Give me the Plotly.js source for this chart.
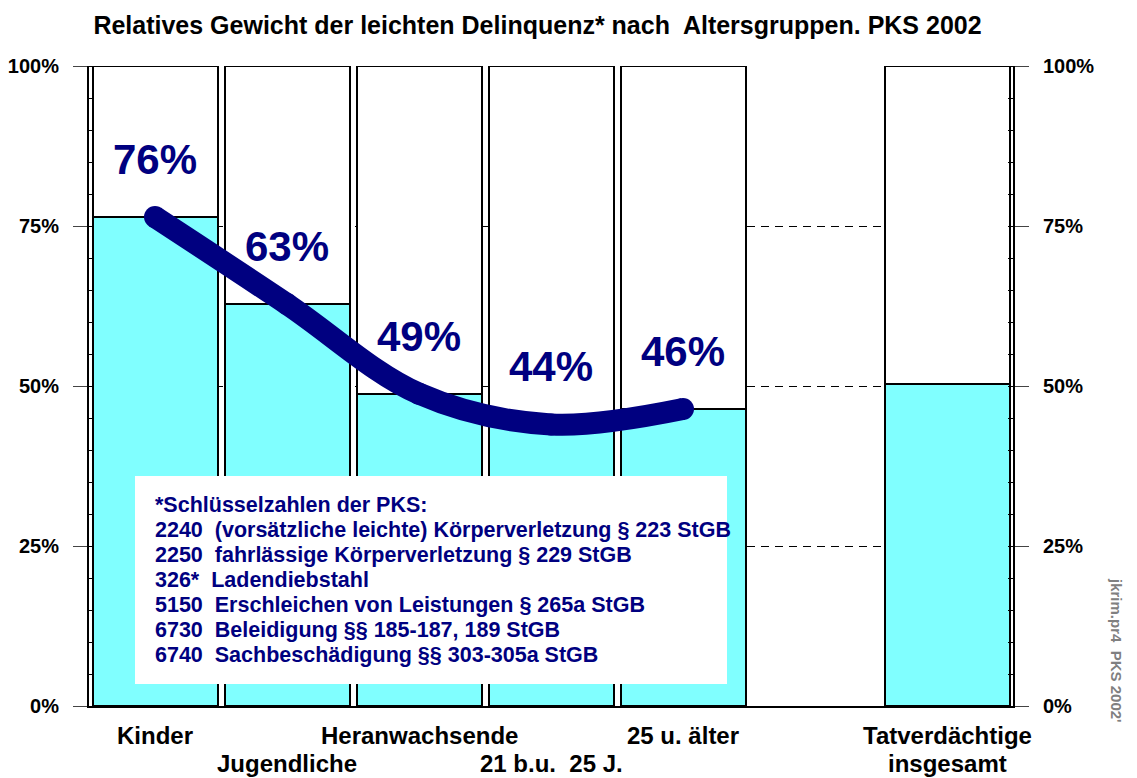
<!DOCTYPE html>
<html>
<head>
<meta charset="utf-8">
<script src="https://cdn.plot.ly/plotly-3.0.1.min.js"></script>
<style>html,body{margin:0;padding:0;background:#fff;}#chart{width:1137px;height:778px;}</style>
</head>
<body>
<div id="chart"></div>
<script>
// ---- data ----
const categoryIndex = [0, 1, 2, 3, 4, 5, 6];
const labelsRow1 = ['Kinder', '', 'Heranwachsende', '', '25 u. älter', '', 'Tatverdächtige'];
const labelsRow2 = ['', 'Jugendliche', '', '21 b.u.  25 J.', '', '', 'insgesamt'];
const lightShare = [76.4, 62.8, 48.8, 44.0, 46.4, null, 50.3];
const percentLabels = ['76%', '63%', '49%', '44%', '46%'];
const curveIndex = [0, 1, 2, 3, 4];
const curveValues = [76.4, 62.8, 48.8, 44.0, 46.4];
const yTicks = [0, 25, 50, 75, 100];
const yTickLabels = ['0%', '25%', '50%', '75%', '100%'];
const footnoteLines = [
  '*Schlüsselzahlen der PKS:',
  '2240  (vorsätzliche leichte) Körperverletzung § 223 StGB',
  '2250  fahrlässige Körperverletzung § 229 StGB',
  '326*  Ladendiebstahl',
  '5150  Erschleichen von Leistungen § 265a StGB',
  '6730  Beleidigung §§ 185-187, 189 StGB',
  '6740  Sachbeschädigung §§ 303-305a StGB'
];
const titleText = 'Relatives Gewicht der leichten Delinquenz* nach  Altersgruppen. PKS 2002';
const sourceText = "jkrim.pr4  PKS 2002'";

// ---- styles ----
const FONT = 'Liberation Sans, Arial, sans-serif';
const NAVY = '#000080';
const CYAN = '#80FFFF';
const restShare = lightShare.map(v => v == null ? null : 100 - v);

const traces = [
  {type: 'bar', x: categoryIndex, y: lightShare, marker: {color: CYAN, line: {color: '#000', width: 2}}, hoverinfo: 'skip'},
  {type: 'bar', x: categoryIndex, y: restShare, marker: {color: '#fff', line: {color: '#000', width: 2}}, hoverinfo: 'skip'},
  {type: 'scatter', mode: 'lines+markers', x: curveIndex, y: curveValues,
   line: {color: NAVY, width: 22, shape: 'spline', smoothing: 1}, marker: {color: NAVY, size: 22}, hoverinfo: 'skip'},
  {type: 'scatter', x: [null], y: [null], yaxis: 'y2', hoverinfo: 'skip', showlegend: false}
];

const tickFont = {family: FONT, size: 20, color: '#000', weight: 700};
const yCommon = {
  range: [0, 100], tickmode: 'array', tickvals: yTicks, ticktext: yTickLabels, ticks: 'outside', ticklen: 14, tickwidth: 1, tickcolor: '#444',
  ticklabelstandoff: 10, tickfont: tickFont, showline: true, linewidth: 2, linecolor: '#000', zeroline: false,
  minor: {dtick: 5, ticks: 'inside', ticklen: 5, tickcolor: '#000', tickwidth: 1, showgrid: false}, fixedrange: true
};

const annotations = [];
const PX = 6.4; // pixels per percent
percentLabels.forEach((t, i) => annotations.push({
  x: curveIndex[i], y: curveValues[i] + 9, xref: 'x', yref: 'y', text: t, showarrow: false,
  xanchor: 'center', yanchor: 'middle', font: {family: FONT, size: 42, color: NAVY, weight: 700}
}));
categoryIndex.forEach(i => {
  if (labelsRow1[i]) annotations.push({x: i, y: -29 / 640, xref: 'x', yref: 'paper', text: labelsRow1[i], showarrow: false,
    xanchor: 'center', yanchor: 'middle', font: {family: FONT, size: 24, color: '#000', weight: 700}});
  if (labelsRow2[i]) annotations.push({x: i, y: -57 / 640, xref: 'x', yref: 'paper', text: labelsRow2[i], showarrow: false,
    xanchor: 'center', yanchor: 'middle', font: {family: FONT, size: 24, color: '#000', weight: 700}});
});
footnoteLines.forEach((t, i) => annotations.push({
  x: (153 - 89) / 132 - 0.5, y: (706 - 505 - 25 * i) / PX, xref: 'x', yref: 'y', text: t, showarrow: false,
  xanchor: 'left', yanchor: 'middle', align: 'left', font: {family: FONT, size: 21.5, color: NAVY, weight: 700}
}));
annotations.push({x: (1117 - 89) / 924, y: (706 - 650) / 640, xref: 'paper', yref: 'paper', text: sourceText, showarrow: false,
  textangle: 90, xanchor: 'center', yanchor: 'middle', font: {family: FONT, size: 15, color: '#808080', weight: 700}});

const layout = {
  width: 1137, height: 778,
  margin: {l: 89, r: 124, t: 66, b: 72},
  paper_bgcolor: '#fff', plot_bgcolor: '#fff',
  showlegend: false, barmode: 'stack', bargap: 0.053,
  title: {text: titleText, x: 537.5 / 1137, xanchor: 'center', y: 1 - 25 / 778, yanchor: 'middle',
          font: {family: FONT, size: 25, color: '#000', weight: 700}},
  xaxis: {range: [-0.5, 6.5], showticklabels: false, ticks: '', showgrid: false, zeroline: false,
          showline: true, linewidth: 2, linecolor: '#000', fixedrange: true},
  yaxis: Object.assign({}, yCommon, {side: 'left', showgrid: true, gridcolor: '#000', gridwidth: 1, griddash: '8px,6px'}),
  yaxis2: Object.assign({}, yCommon, {side: 'right', overlaying: 'y', anchor: 'x', showgrid: false}),
  shapes: [{type: 'rect', xref: 'x', yref: 'y', x0: (135 - 89) / 132 - 0.5, x1: (727 - 89) / 132 - 0.5,
            y0: (706 - 684) / PX, y1: (706 - 476) / PX, fillcolor: '#fff', line: {width: 0}, layer: 'above'}],
  annotations: annotations
};

Plotly.newPlot('chart', traces, layout, {displayModeBar: false, staticPlot: true});
</script>
</body>
</html>
